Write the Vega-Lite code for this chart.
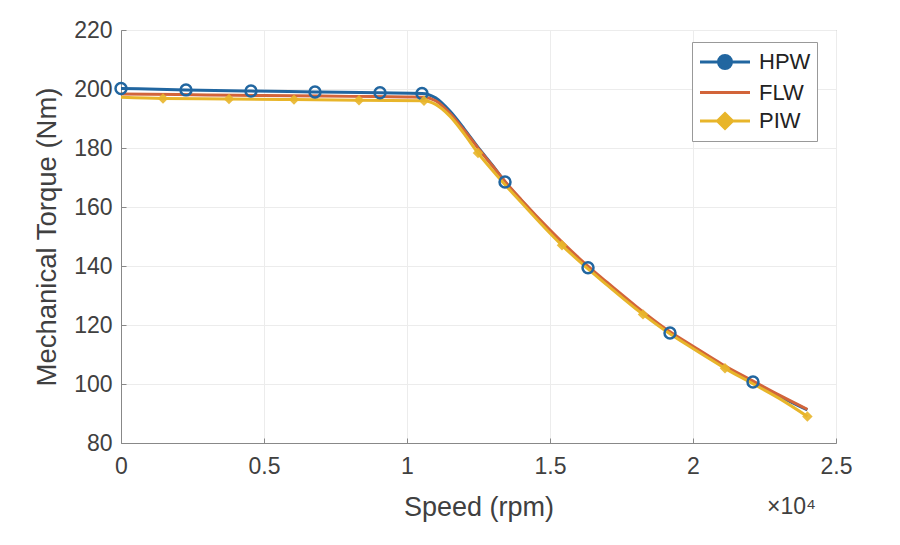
{
  "$schema": "https://vega.github.io/schema/vega-lite/v6.json",
  "width": 715,
  "height": 413,
  "autosize": {"type": "none"},
  "padding": {"left": 121, "top": 30, "right": 64, "bottom": 102},
  "background": "white",
  "title": {
    "text": "×10⁴",
    "orient": "bottom",
    "anchor": "end",
    "frame": "group",
    "fontSize": 23,
    "fontWeight": "normal",
    "color": "#404040",
    "offset": -24,
    "dx": -20
  },
  "datasets": {
    "curves": [
      {"series": "HPW", "speed": 0, "torque": 200.2},
      {"series": "HPW", "speed": 2273, "torque": 199.7},
      {"series": "HPW", "speed": 4545, "torque": 199.3},
      {"series": "HPW", "speed": 6783, "torque": 199.0},
      {"series": "HPW", "speed": 9056, "torque": 198.7},
      {"series": "HPW", "speed": 10524, "torque": 198.5},
      {"series": "HPW", "speed": 11000, "torque": 197.0},
      {"series": "HPW", "speed": 11500, "torque": 192.5},
      {"series": "HPW", "speed": 12000, "torque": 186.5},
      {"series": "HPW", "speed": 12500, "torque": 180.0},
      {"series": "HPW", "speed": 13000, "torque": 174.0},
      {"series": "HPW", "speed": 13427, "torque": 168.5},
      {"series": "HPW", "speed": 14000, "torque": 162.2},
      {"series": "HPW", "speed": 15000, "torque": 151.8},
      {"series": "HPW", "speed": 16000, "torque": 142.4},
      {"series": "HPW", "speed": 16329, "torque": 139.4},
      {"series": "HPW", "speed": 17000, "torque": 134.0},
      {"series": "HPW", "speed": 18000, "torque": 126.0},
      {"series": "HPW", "speed": 19000, "torque": 118.6},
      {"series": "HPW", "speed": 19196, "torque": 117.3},
      {"series": "HPW", "speed": 20000, "torque": 112.4},
      {"series": "HPW", "speed": 21000, "torque": 106.4},
      {"series": "HPW", "speed": 22000, "torque": 101.2},
      {"series": "HPW", "speed": 22098, "torque": 100.7},
      {"series": "HPW", "speed": 23000, "torque": 96.0},
      {"series": "HPW", "speed": 24000, "torque": 91.2},
      {"series": "FLW", "speed": 0, "torque": 198.3},
      {"series": "FLW", "speed": 2000, "torque": 198.1},
      {"series": "FLW", "speed": 4000, "torque": 197.9},
      {"series": "FLW", "speed": 6000, "torque": 197.7},
      {"series": "FLW", "speed": 8000, "torque": 197.5},
      {"series": "FLW", "speed": 10000, "torque": 197.3},
      {"series": "FLW", "speed": 10600, "torque": 197.2},
      {"series": "FLW", "speed": 11000, "torque": 196.0},
      {"series": "FLW", "speed": 11500, "torque": 191.8},
      {"series": "FLW", "speed": 12000, "torque": 186.0},
      {"series": "FLW", "speed": 12500, "torque": 179.8},
      {"series": "FLW", "speed": 13000, "torque": 173.8},
      {"series": "FLW", "speed": 13500, "torque": 167.8},
      {"series": "FLW", "speed": 14000, "torque": 162.4},
      {"series": "FLW", "speed": 15000, "torque": 152.2},
      {"series": "FLW", "speed": 16000, "torque": 142.8},
      {"series": "FLW", "speed": 17000, "torque": 134.4},
      {"series": "FLW", "speed": 18000, "torque": 126.4},
      {"series": "FLW", "speed": 19000, "torque": 119.0},
      {"series": "FLW", "speed": 20000, "torque": 112.8},
      {"series": "FLW", "speed": 21000, "torque": 106.8},
      {"series": "FLW", "speed": 22000, "torque": 101.5},
      {"series": "FLW", "speed": 23000, "torque": 96.3},
      {"series": "FLW", "speed": 24000, "torque": 91.4},
      {"series": "PIW", "speed": 0, "torque": 197.2},
      {"series": "PIW", "speed": 1469, "torque": 196.8},
      {"series": "PIW", "speed": 3776, "torque": 196.6},
      {"series": "PIW", "speed": 6049, "torque": 196.4},
      {"series": "PIW", "speed": 8322, "torque": 196.2},
      {"series": "PIW", "speed": 10594, "torque": 196.0},
      {"series": "PIW", "speed": 11000, "torque": 194.8},
      {"series": "PIW", "speed": 11500, "torque": 190.8},
      {"series": "PIW", "speed": 12000, "torque": 184.8},
      {"series": "PIW", "speed": 12483, "torque": 178.3},
      {"series": "PIW", "speed": 13000, "torque": 172.3},
      {"series": "PIW", "speed": 13500, "torque": 166.8},
      {"series": "PIW", "speed": 14000, "torque": 161.5},
      {"series": "PIW", "speed": 15000, "torque": 151.1},
      {"series": "PIW", "speed": 15420, "torque": 147.0},
      {"series": "PIW", "speed": 16000, "torque": 141.8},
      {"series": "PIW", "speed": 17000, "torque": 133.5},
      {"series": "PIW", "speed": 18000, "torque": 125.5},
      {"series": "PIW", "speed": 18252, "torque": 123.6},
      {"series": "PIW", "speed": 19000, "torque": 118.3},
      {"series": "PIW", "speed": 20000, "torque": 112.0},
      {"series": "PIW", "speed": 21000, "torque": 106.0},
      {"series": "PIW", "speed": 21119, "torque": 105.3},
      {"series": "PIW", "speed": 22000, "torque": 100.6},
      {"series": "PIW", "speed": 23000, "torque": 95.2},
      {"series": "PIW", "speed": 24000, "torque": 89.0}
    ],
    "markers": [
      {"series": "HPW", "speed": 0, "torque": 200.2},
      {"series": "HPW", "speed": 2273, "torque": 199.7},
      {"series": "HPW", "speed": 4545, "torque": 199.3},
      {"series": "HPW", "speed": 6783, "torque": 199.0},
      {"series": "HPW", "speed": 9056, "torque": 198.7},
      {"series": "HPW", "speed": 10524, "torque": 198.5},
      {"series": "HPW", "speed": 13427, "torque": 168.5},
      {"series": "HPW", "speed": 16329, "torque": 139.4},
      {"series": "HPW", "speed": 19196, "torque": 117.3},
      {"series": "HPW", "speed": 22098, "torque": 100.7},
      {"series": "PIW", "speed": 1469, "torque": 196.8},
      {"series": "PIW", "speed": 3776, "torque": 196.6},
      {"series": "PIW", "speed": 6049, "torque": 196.4},
      {"series": "PIW", "speed": 8322, "torque": 196.2},
      {"series": "PIW", "speed": 10594, "torque": 196.0},
      {"series": "PIW", "speed": 12483, "torque": 178.3},
      {"series": "PIW", "speed": 15420, "torque": 147.0},
      {"series": "PIW", "speed": 18252, "torque": 123.6},
      {"series": "PIW", "speed": 21119, "torque": 105.3},
      {"series": "PIW", "speed": 24000, "torque": 89.0}
    ]
  },
  "encoding": {
    "x": {
      "field": "speed",
      "type": "quantitative",
      "scale": {"domain": [0, 25000], "nice": false, "zero": false},
      "axis": {
        "title": "Speed (rpm)",
        "values": [0, 5000, 10000, 15000, 20000, 25000],
        "labelExpr": "format(datum.value / 10000, '~g')",
        "labelPadding": 17,
        "titleFontSize": 27,
        "titlePadding": 16
      }
    },
    "y": {
      "field": "torque",
      "type": "quantitative",
      "scale": {"domain": [80, 220], "nice": false, "zero": false},
      "axis": {
        "title": "Mechanical Torque (Nm)",
        "values": [80, 100, 120, 140, 160, 180, 200, 220],
        "titleFontSize": 27.5,
        "titlePadding": 12
      }
    },
    "color": {
      "field": "series",
      "type": "nominal",
      "scale": {
        "domain": ["HPW", "FLW", "PIW"],
        "range": ["#2166a0", "#d2643a", "#e8b52a"]
      },
      "legend": {
        "orient": "none",
        "legendX": 571,
        "legendY": 12,
        "title": null,
        "symbolType": "stroke",
        "symbolSize": 625,
        "symbolStrokeWidth": 3,
        "symbolOffset": 13,
        "labelFontSize": 22,
        "labelColor": "#222222",
        "labelOffset": 20,
        "fillColor": "white",
        "strokeColor": "#999999",
        "padding": 6,
        "rowPadding": 3.5,
        "encode": {
          "symbols": {
            "update": {
              "shape": {"signal": "datum.value == 'HPW' ? 'M-2,0H2M0.52,0A0.52,0.52,0,1,1,-0.52,0A0.52,0.52,0,1,1,0.52,0' : datum.value == 'PIW' ? 'M-2,0H2M0,-0.6L0.6,0L0,0.6L-0.6,0Z' : 'M-2,0H2'"},
              "fill": {"signal": "datum.value == 'HPW' ? '#3a8fd0' : datum.value == 'PIW' ? '#e0a828' : 'transparent'"}
            }
          }
        }
      }
    }
  },
  "layer": [
    {
      "data": {"name": "curves"},
      "mark": {"type": "line", "strokeWidth": 3, "interpolate": "monotone"}
    },
    {
      "data": {"name": "markers"},
      "transform": [{"filter": "datum.series == 'HPW'"}],
      "mark": {"type": "point", "shape": "circle", "filled": false, "size": 120, "strokeWidth": 2.5, "opacity": 1}
    },
    {
      "data": {"name": "markers"},
      "transform": [{"filter": "datum.series == 'PIW'"}],
      "mark": {"type": "point", "shape": "diamond", "filled": true, "size": 110, "opacity": 0.9}
    }
  ],
  "config": {
    "font": "Liberation Sans",
    "view": {"stroke": "#a0a0a0", "strokeWidth": 1},
    "axis": {
      "labelFontSize": 23,
      "labelColor": "#404040",
      "titleColor": "#404040",
      "titleFontWeight": "normal",
      "labelFlush": false,
      "domainColor": "#888888",
      "tickColor": "#888888",
      "tickSize": -5,
      "labelPadding": 14,
      "gridColor": "#ececec",
      "grid": true
    }
  }
}
